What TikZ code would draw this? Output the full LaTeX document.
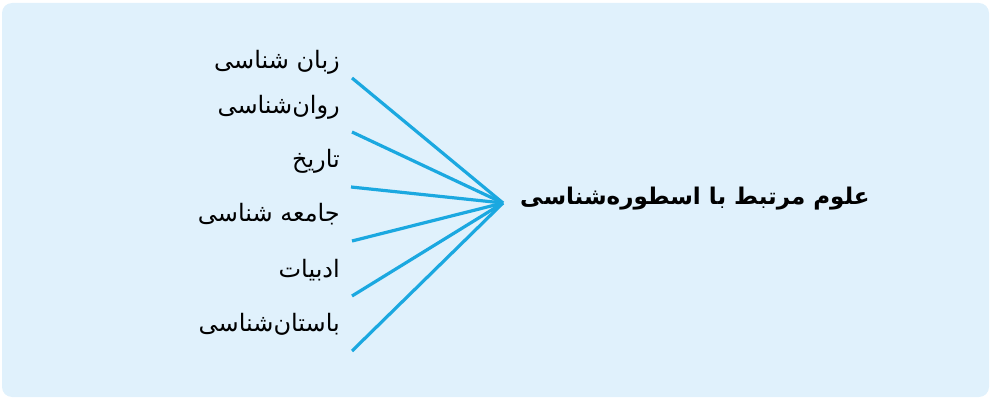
\documentclass[tikz,border=0pt]{standalone}
\usepackage{fontspec}
\newfontfamily\arabicfont[Script=Arabic]{DejaVu Sans}
\TeXXeTstate=1
\definecolor{panelblue}{RGB}{224,241,252}
\definecolor{linkblue}{RGB}{27,168,224}
\tikzset{
    subject/.style={anchor=east, inner sep=0pt, font=\arabicfont\fontsize{24}{28}\selectfont},
    link/.style={draw=linkblue, line width=3.2pt},
}
\begin{document}
\begin{tikzpicture}[x=1pt, y=-1pt]
    \useasboundingbox (0,0) rectangle (991,401) ;
    \fill [panelblue, rounded corners=10pt] (2,3) rectangle (989,397) ;

    \node [anchor=center, inner sep=0pt, font=\arabicfont\bfseries\fontsize{23}{27}\selectfont] (title) at (695,199) {\beginR علوم مرتبط با اسطوره‌شناسی\endR} ;
    \coordinate (hub) at (503,203) ;

    \node [subject] (zaban) at (340,62) {\beginR زبان شناسی\endR} ;
    \node [subject] (ravan) at (340,107) {\beginR روان‌شناسی\endR} ;
    \node [subject] (tarikh) at (340,161) {\beginR تاریخ\endR} ;
    \node [subject] (jameh) at (340,214) {\beginR جامعه شناسی\endR} ;
    \node [subject] (adabiat) at (340,270) {\beginR ادبیات\endR} ;
    \node [subject] (bastan) at (340,324) {\beginR باستان‌شناسی\endR} ;

    \coordinate (zaban-end) at (352,78) ;
    \coordinate (ravan-end) at (352,132) ;
    \coordinate (tarikh-end) at (351,187) ;
    \coordinate (jameh-end) at (352,241) ;
    \coordinate (adabiat-end) at (352,296) ;
    \coordinate (bastan-end) at (352,351) ;

    \draw [link] (zaban-end) -- (hub) ;
    \draw [link] (ravan-end) -- (hub) ;
    \draw [link] (tarikh-end) -- (hub) ;
    \draw [link] (jameh-end) -- (hub) ;
    \draw [link] (adabiat-end) -- (hub) ;
    \draw [link] (bastan-end) -- (hub) ;
\end{tikzpicture}
\end{document}
